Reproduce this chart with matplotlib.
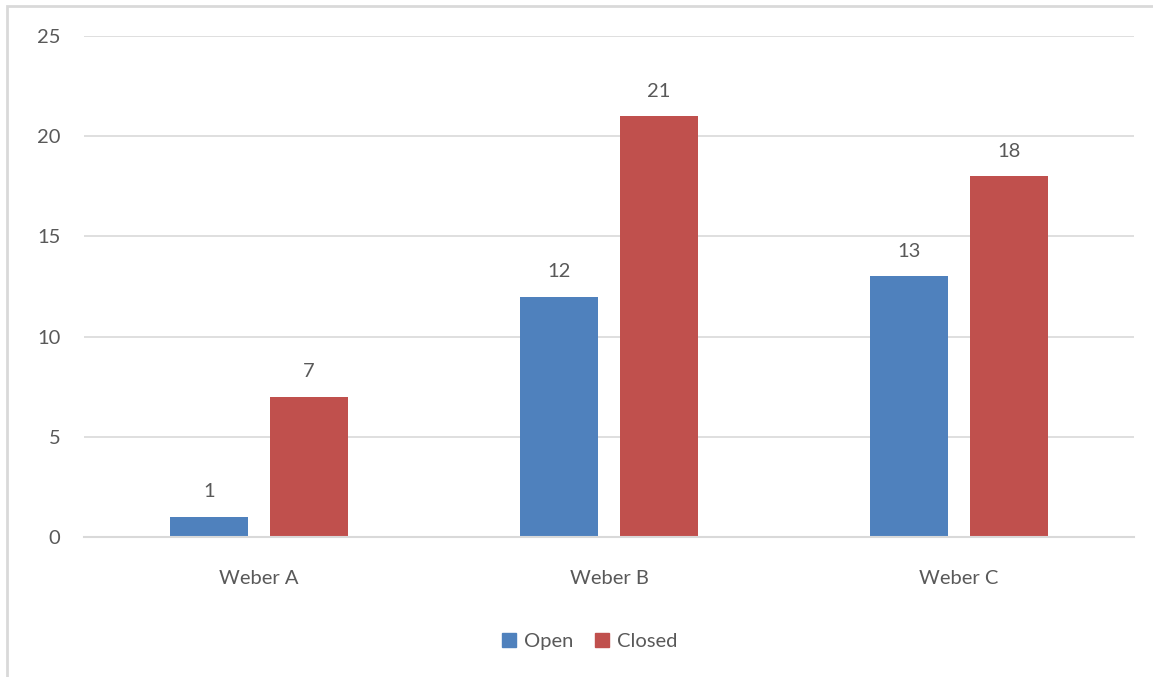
import numpy as np
import matplotlib
matplotlib.use("Agg")
import matplotlib.pyplot as plt
from matplotlib.patches import Rectangle

categories = ["Weber A", "Weber B", "Weber C"]
open_vals = [1, 12, 13]
closed_vals = [7, 21, 18]
series = ["Open", "Closed"]
yticks = [0, 5, 10, 15, 20, 25]

BLUE = "#4f81bd"
RED = "#c0504d"
GRID = "#d9d9d9"
TXT = "#595959"
FS = 14.5

plt.rcParams["font.family"] = ["Lato", "DejaVu Sans"]

W, H = 1153, 677
fig = plt.figure(figsize=(W / 100, H / 100), dpi=100)
ax = fig.add_axes([84 / W, 1 - 537 / H, 1050 / W, 501 / H])

# chart frame (only left/top edges fall inside the canvas)
fig.patches.append(Rectangle((6.5 / W, -0.1), 1.2, 1.1 - 6.5 / H,
                             transform=fig.transFigure, fill=False,
                             edgecolor=GRID, lw=2, clip_on=True))

x = np.arange(len(categories))
off, bw = 0.143, 0.223
b1 = ax.bar(x - off, open_vals, bw, color=BLUE, label=series[0], zorder=3)
b2 = ax.bar(x + off, closed_vals, bw, color=RED, label=series[1], zorder=3)

for bars, vals in [(b1, open_vals), (b2, closed_vals)]:
    for r, v in zip(bars, vals):
        ax.annotate(str(v), (r.get_x() + r.get_width() / 2, v),
                    xytext=(0, 18), textcoords="offset points",
                    ha="center", va="center", fontsize=FS, color=TXT)

ax.set_xlim(-0.5, 2.5)
ax.set_ylim(0, 25)
ax.set_yticks(yticks)
ax.set_xticks(x)
ax.set_xticklabels(categories)
ax.tick_params(axis="both", length=0, labelsize=FS, labelcolor=TXT)
ax.tick_params(axis="y", pad=17)
ax.tick_params(axis="x", pad=24)
ax.grid(axis="y", color=GRID, lw=1.2, zorder=0)
for s in ["top", "right", "left"]:
    ax.spines[s].set_visible(False)
ax.spines["bottom"].set_color(GRID)
ax.spines["bottom"].set_linewidth(1.5)
ax.spines["bottom"].set_zorder(4)

handles = [plt.Line2D([0], [0], marker="s", color="w", markerfacecolor=c,
                      markeredgecolor=c, markersize=10, label=l)
           for c, l in [(BLUE, series[0]), (RED, series[1])]]
leg = fig.legend(handles=handles, loc="center", bbox_to_anchor=(589 / W, 1 - 641 / H),
                 ncol=2, frameon=False, fontsize=FS, handletextpad=0.35,
                 columnspacing=1.0, handlelength=0.8)
for t in leg.get_texts():
    t.set_color(TXT)

fig.savefig("out.png", dpi=100)
